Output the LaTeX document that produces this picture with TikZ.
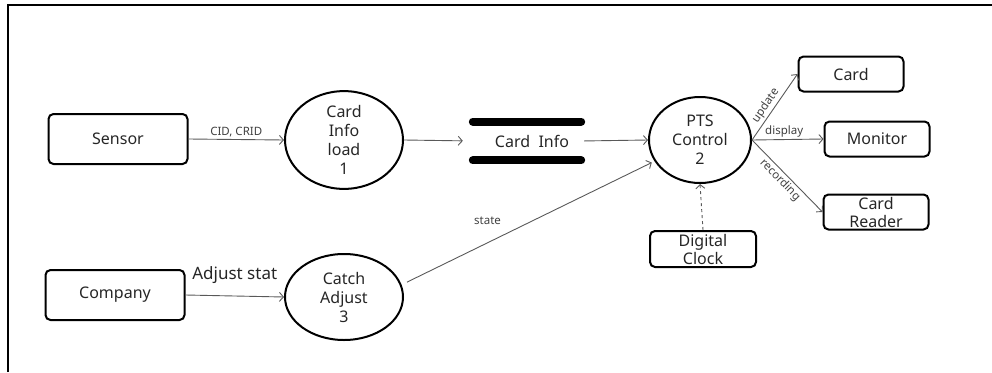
\documentclass[tikz,border=0pt]{standalone}
\usepackage{fontspec}
\setmainfont{Noto Sans}
\usetikzlibrary{arrows.meta,shapes.geometric}
\begin{document}
\begin{tikzpicture}[x=1pt,y=-1pt,
  box/.style={draw=black, line width=2pt, rounded corners=5pt, inner sep=0pt, align=center, text=black!85, font=\fontsize{16}{18}\selectfont},
  proc/.style={draw=black, ellipse, line width=2pt, minimum width=118pt, minimum height=86pt, inner sep=0pt, align=center, text=black!85, font=\fontsize{16}{19}\selectfont},
  flow/.style={draw=black!65, line width=0.9pt, -{Straight Barb[length=4pt,width=9pt]}},
  lbl/.style={font=\fontsize{11.5}{13}\selectfont, text=black!75, inner sep=2pt},
  bar/.style={line width=8pt, line cap=round, draw=black}]
\useasboundingbox (0,0) rectangle (992,372);
\draw[line width=2pt] (8,372) -- (8,5) -- (992,5);

\node[box, minimum width=139pt, minimum height=50pt] (sensor) at (118,139) {Sensor};
\node[box, minimum width=139pt, minimum height=50pt] (company) at (115,295) {Company};
\node[proc] (load) at (344,140) {Card\\Info\\load\\1};
\node[proc] (catch) at (344,297) {Catch\\Adjust\\3};
\node[inner sep=0pt, minimum width=108pt, minimum height=38.5pt, text=black!85, font=\fontsize{16}{18}\selectfont] (store) at (527,141) {\hspace*{10pt}Card~~Info};
\draw[bar] (store.north west) -- (store.north east);
\draw[bar] (store.south west) -- (store.south east);
\node[proc, minimum width=102pt, minimum height=86pt] (pts) at (700,140) {PTS\\Control\\2};
\node[box, minimum width=105pt, minimum height=35pt] (card) at (851,74) {Card};
\node[box, minimum width=105pt, minimum height=35pt] (monitor) at (877,139) {Monitor};
\node[box, minimum width=105pt, minimum height=35pt] (reader) at (876,212) {Card\\Reader};
\node[box, minimum width=106pt, minimum height=36pt] (clock) at (703,249) {Digital\\Clock};

\draw[flow] (sensor.east) -- node[lbl, above] {CID, CRID} (load.west);
\draw[flow] (company.east) -- node[above=12pt, inner sep=0pt, text=black!85, font=\fontsize{17}{19}\selectfont] {Adjust stat} (catch.west);
\draw[flow, shorten >=10pt] (load.east) -- (store.west);
\draw[flow, shorten <=3pt] (store.east) -- (pts.west);
\draw[flow, shorten <=6pt, shorten >=3pt] (catch.12) -- node[lbl, pos=0.34, above=18pt, inner sep=0pt] {state} (pts.205);
\draw[flow, dashed] (clock.north) -- (pts.south);
\draw[flow] (pts.east) -- node[lbl, sloped, above, pos=0.45] {update} (card.west);
\draw[flow] (pts.east) -- node[lbl, above, pos=0.45] {display} (monitor.west);
\draw[flow] (pts.east) -- node[lbl, sloped, below, pos=0.48] {recording} (reader.west);
\end{tikzpicture}
\end{document}
